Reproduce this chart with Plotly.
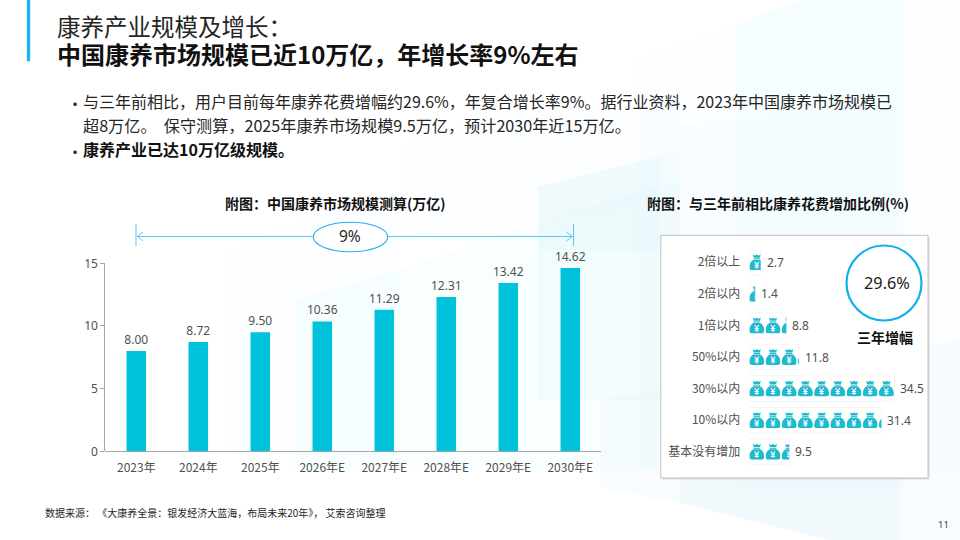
import base64
import plotly.graph_objects as go

# ---------- data ----------
years = ["2023年", "2024年", "2025年", "2026年E", "2027年E", "2028年E", "2029年E", "2030年E"]
market = [8.00, 8.72, 9.50, 10.36, 11.29, 12.31, 13.42, 14.62]
increase_labels = ["2倍以上", "2倍以内", "1倍以内", "50%以内", "30%以内", "10%以内", "基本没有增加"]
increase_values = [2.7, 1.4, 8.8, 11.8, 34.5, 31.4, 9.5]
units_per_bag = 3.85
cagr_text = "9%"
total_text = "29.6%"

FONT = "Noto Sans, Noto Sans CJK SC, sans-serif"
CJK = "Noto Sans CJK SC, Noto Sans, sans-serif"
W, H = 960, 540


def px(x):
    return x / W


def py(y):
    return 1 - y / H


def path(points, close=True):
    s = "M" + " L".join(f"{px(x):.5f},{py(y):.5f}" for x, y in points)
    return s + (" Z" if close else "")


shapes = []

# soft background facets
bg = [
    ([(638, 58), (737, 24), (800, 0), (960, 0), (960, 470), (638, 470)], "rgba(225,245,250,0.09)"),
    ([(737, 24), (800, 0), (905, 0), (905, 490), (737, 490)], "rgba(205,243,245,0.12)"),
    ([(538, 187), (680, 150), (680, 400), (538, 400)], "rgba(205,240,248,0.12)"),
    ([(680, 125), (860, 105), (900, 100), (900, 400), (680, 400)], "rgba(225,240,250,0.09)"),
    ([(400, 145), (480, 120), (680, 100), (680, 200), (400, 240)], "rgba(225,245,250,0.09)"),
    ([(538, 187), (660, 157), (660, 250), (538, 250)], "rgba(200,235,250,0.12)"),
    ([(230, 250), (295, 222), (400, 190), (400, 455), (230, 455)], "rgba(220,246,250,0.09)"),
    ([(295, 300), (400, 270), (540, 220), (680, 180), (680, 470), (295, 470)], "rgba(215,245,250,0.14)"),
    ([(600, 400), (960, 340), (960, 540), (830, 540), (680, 503), (600, 487)], "rgba(215,238,248,0.15)"),
    ([(680, 470), (900, 470), (900, 540), (830, 540), (680, 503)], "rgba(205,232,245,0.14)"),
]
for pts, col in bg:
    shapes.append(dict(type="path", xref="paper", yref="paper", path=path(pts),
                       fillcolor=col, line=dict(width=0), layer="below"))

# accent bar
shapes.append(dict(type="path", xref="paper", yref="paper", layer="below",
                   path=path([(27.2, 0), (29.8, 0), (29.8, 61), (27.2, 61)]),
                   fillcolor="#08B2F2", line=dict(color="#08B2F2", width=0.6)))

# right panel box
shapes.append(dict(type="path", xref="paper", yref="paper", layer="below",
                   path=path([(662, 237), (929.5, 237), (929.5, 479.5), (662, 479.5)]),
                   fillcolor="#DADADA", line=dict(width=0)))
shapes.append(dict(type="rect", xref="paper", yref="paper", layer="below",
                   x0=px(660.8), x1=px(928), y0=py(478), y1=py(235.3),
                   fillcolor="#FFFFFF", line=dict(color="#BFC3C6", width=1)))

# growth arrow
ARROW = "#5CC8F5"
for pts in [
    [(137, 236.5), (314, 236.5)],
    [(387, 236.5), (572, 236.5)],
    [(136, 224), (136, 246)],
    [(573.5, 224), (573.5, 246)],
    [(143, 232), (137.5, 236.5), (143, 241)],
    [(566.5, 232), (572.5, 236.5), (566.5, 241)],
]:
    shapes.append(dict(type="path", xref="paper", yref="paper", path=path(pts, close=False),
                       fillcolor="rgba(0,0,0,0)", line=dict(color=ARROW, width=1), layer="above"))
shapes.append(dict(type="circle", xref="paper", yref="paper", layer="above",
                   x0=px(313.3), x1=px(387.7), y0=py(251.7), y1=py(222.3),
                   fillcolor="#FFFFFF", line=dict(color="#29AEE8", width=1.1)))

# total ring
shapes.append(dict(type="circle", xref="paper", yref="paper", layer="below",
                   x0=px(846.5), x1=px(921.5), y0=py(320.5), y1=py(245.5),
                   fillcolor="rgba(0,0,0,0)", line=dict(color="#0FB0EE", width=2.2)))

fig = go.Figure()

# market size bars
fig.add_trace(go.Bar(
    x=years, y=market, xaxis="x", yaxis="y", width=0.315,
    marker=dict(color="#00C2DA", line=dict(width=0)),
    text=[f"{v:.2f}" for v in market], textposition="outside", cliponaxis=False,
    constraintext="none",
    textfont=dict(family=FONT, size=12, color="#505050"), hoverinfo="skip",
))

# invisible carrier of the pictogram values
fig.add_trace(go.Bar(
    x=increase_values, y=list(range(len(increase_labels))), orientation="h",
    xaxis="x2", yaxis="y2", marker=dict(color="rgba(0,0,0,0)"), hoverinfo="skip",
))

# money-bag pictogram
STEP_PX = 16.2
BAG_W = 15.0
BAG_H = 16.0
X2_LEFT, X2_RIGHT = 749.3, 925.0
px_per_unit = STEP_PX / units_per_bag
x2_range = (X2_RIGHT - X2_LEFT) / px_per_unit
row_px = 31.6


def bag_uri(width):
    svg = (
        f'<svg xmlns="http://www.w3.org/2000/svg" width="{width * 4:.1f}" height="{BAG_H * 4:.0f}" '
        f'viewBox="0 0 {width:.3f} {BAG_H:.0f}" preserveAspectRatio="none">'
        '<path fill="#1FBACF" d="M3.4 .3 L5.6 1.2 L7.5 .3 L9.4 1.2 L11.6 .3 L10.6 3.4 H4.4 Z"/>'
        '<rect fill="#1FBACF" x="4.2" y="4" width="6.6" height="1.1"/>'
        '<path fill="#1FBACF" d="M4 5.6 C1.6 7 0 9.8 0 12.8 C0 15 1 16 3 16 H12 C14 16 15 15 15 12.8 '
        'C15 9.8 13.4 7 11 5.6 Z"/>'
        '<path fill="none" stroke="#fff" stroke-width="1.05" d="M5.4 7.6 L7.5 10.4 L9.6 7.6 M7.5 10.4 V14.4 '
        'M5.4 11 H9.6 M5.4 12.8 H9.6"/>'
        '</svg>'
    )
    return "data:image/svg+xml;base64," + base64.b64encode(svg.encode()).decode()


images = []
annotations = []
for row, value in enumerate(increase_values):
    bags = value / units_per_bag
    n = int(bags) + 1
    for i in range(n):
        frac = min(bags - i, 1.0)
        width = min(frac * STEP_PX, BAG_W)
        if width < 0.3:
            continue
        images.append(dict(
            source=bag_uri(width), xref="x2", yref="y2", x=i * units_per_bag, y=row,
            sizex=width / px_per_unit, sizey=BAG_H / row_px,
            xanchor="left", yanchor="middle", sizing="stretch", layer="above",
        ))
    annotations.append(dict(
        xref="x2", yref="y2", x=value, y=row, text=f"{value}", showarrow=False,
        xanchor="left", yanchor="middle", xshift=4,
        font=dict(family=FONT, size=12, color="#505050"),
    ))


def label(x, y, text, size, color="#262626", bold=False, anchor="left", family=CJK):
    annotations.append(dict(
        xref="paper", yref="paper", x=px(x), y=py(y), showarrow=False,
        text=f"<b>{text}</b>" if bold else text,
        xanchor=anchor, yanchor="middle",
        font=dict(family=family, size=size, color=color),
    ))


# two-line heading in one text, so the lines share one 28px line pitch
title_1 = "康养产业规模及增长："
title_2 = "中国康养市场规模已近10万亿，年增长率9%左右"
annotations.append(dict(
    xref="paper", yref="paper", x=px(55), y=py(39.5), showarrow=False, xanchor="left", yanchor="middle",
    align="left", font=dict(family=CJK, size=21.5, color="#111111"),
    text=(f'<span style="font-size:23.5px;fill:#262626">{title_1}</span><br>'
          f'<span style="font-size:24px"><b>{title_2}</b></span>'),
))
label(65, 103, "•", 16, "#262626")
label(81, 101, "与三年前相比，用户目前每年康养花费增幅约29.6%，年复合增长率9%。据行业资料，2023年中国康养市场规模已", 16, "#262626")
label(81, 125, "超8万亿。\u00a0\u00a0保守测算，2025年康养市场规模9.5万亿，预计2030年近15万亿。", 16.15, "#262626")
label(65, 151, "•", 16, "#262626")
label(81, 149, "康养产业已达10万亿级规模。", 16, "#111111", bold=True)
label(335, 203, "附图：中国康养市场规模测算(万亿)", 14, "#111111", bold=True, anchor="center")
label(778, 203, "附图：与三年前相比康养花费增加比例(%)", 14, "#111111", bold=True, anchor="center")
label(350, 236, cagr_text, 15.5, "#262626", anchor="center", family=FONT)
label(886.5, 283, total_text, 16.3, "#1A1A1A", anchor="center", family=FONT)
label(884.5, 337, "三年增幅", 14, "#111111", bold=True, anchor="center")
label(43, 512, "数据来源：\u00a0《大康养全景：银发经济大蓝海，布局未来20年》，\u00a0艾索咨询整理", 10, "#262626")
label(943, 524, "11", 9.5, "#404040", anchor="center", family=FONT)

AXIS = "#A6A6A6"
fig.update_layout(
    width=W, height=H, autosize=False, margin=dict(l=0, r=0, t=0, b=0, pad=0, autoexpand=False),
    paper_bgcolor="#FFFFFF", plot_bgcolor="rgba(0,0,0,0)", showlegend=False, barmode="overlay",
    shapes=shapes, images=images, annotations=annotations,
    xaxis=dict(domain=[px(105.3), px(601.3)], anchor="y", type="category",
               showgrid=False, zeroline=False, showline=False, ticks="",
               tickfont=dict(family=CJK, size=12, color="#505050"), ticklabelstandoff=8),
    yaxis=dict(domain=[py(451.3), py(263.3)], anchor="x", range=[0, 15], tickvals=[0, 5, 10, 15],
               showgrid=False, zeroline=True, zerolinecolor=AXIS, zerolinewidth=1,
               showline=True, linecolor=AXIS, linewidth=1, ticks="outside", ticklen=4,
               tickcolor=AXIS, tickwidth=1,
               tickfont=dict(family=FONT, size=12, color="#505050")),
    xaxis2=dict(domain=[px(X2_LEFT), px(X2_RIGHT)], anchor="y2", range=[0, x2_range], visible=False),
    yaxis2=dict(domain=[py(467.5), py(246.5)], anchor="x2", range=[6.5, -0.5],
                tickvals=list(range(len(increase_labels))), ticktext=increase_labels,
                showgrid=False, zeroline=False, showline=False, ticks="",
                ticklabelstandoff=8,
                tickfont=dict(family=CJK, size=12, color="#505050")),
)

fig.write_html("out.html", config=dict(displayModeBar=False),
               post_script="document.body.style.margin='0';document.body.style.overflow='hidden';")
